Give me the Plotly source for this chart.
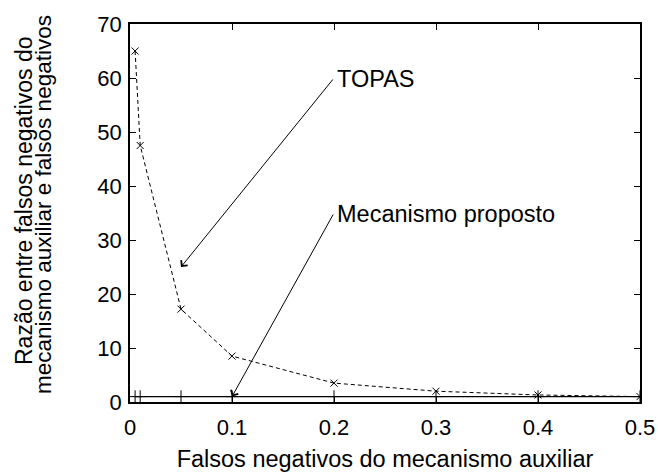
import plotly.graph_objects as go

# False-negative rate of the auxiliary mechanism
fn_rate = [0.005, 0.01, 0.05, 0.1, 0.2, 0.3, 0.4, 0.5]
# Ratio between auxiliary false negatives and false negatives
ratio_topas = [65.0, 47.5, 17.2, 8.5, 3.5, 2.0, 1.3, 1.0]
ratio_proposto = [1.0, 1.0, 1.0, 1.0, 1.0, 1.0, 1.0, 1.0]

x_ticks = [0, 0.1, 0.2, 0.3, 0.4, 0.5]
y_ticks = [0, 10, 20, 30, 40, 50, 60, 70]

y_title_lines = ["Razão entre falsos negativos do", "mecanismo auxiliar e falsos negativos"]

FONT = "Liberation Sans, Arial, Helvetica, sans-serif"
TICK_SIZE = 22
TEXT_SIZE = 23.5

fig = go.Figure()

fig.add_trace(go.Scatter(
    x=fn_rate, y=ratio_topas, mode="lines+markers", name="TOPAS",
    line=dict(color="black", width=1, dash="4px,3px"),
    marker=dict(symbol="x-thin", size=7, line=dict(color="black", width=1)),
))
fig.add_trace(go.Scatter(
    x=fn_rate, y=ratio_proposto, mode="lines+markers", name="Mecanismo proposto",
    line=dict(color="black", width=1.3),
    marker=dict(symbol="cross-thin", size=9, line=dict(color="black", width=1)),
))

# Labels with arrows pointing at each curve
labels = [
    ("TOPAS", 0.2, 60, 0.05, 25),
    ("Mecanismo proposto", 0.2, 35, 0.1, 1),
]
for text, lx, ly, tx, ty in labels:
    fig.add_annotation(
        x=tx, y=ty, ax=lx, ay=ly, xref="x", yref="y", axref="x", ayref="y",
        text="", showarrow=True, arrowhead=4, arrowsize=1.6, arrowwidth=1,
        arrowcolor="black", standoff=0, startstandoff=0,
    )
    fig.add_annotation(
        x=lx, y=ly, xref="x", yref="y", text=text, showarrow=False,
        xanchor="left", yanchor="middle", xshift=1, yshift=-1,
        font=dict(family=FONT, size=TEXT_SIZE, color="black"),
    )

# Two-line y-axis title, each line placed separately for tight spacing
for line, xs, ys, fs in zip(y_title_lines, [-106, -87], [12, 8], [23, 22.5]):
    fig.add_annotation(
        x=0, y=0.5, xref="paper", yref="paper", xanchor="center", yanchor="middle",
        xshift=xs, yshift=ys, textangle=-90, showarrow=False, text=line,
        font=dict(family=FONT, size=fs, color="black"),
    )

axis_common = dict(
    showgrid=False, zeroline=False, showline=True, linecolor="black", linewidth=1.5,
    mirror="allticks", ticks="inside", ticklen=6, tickwidth=1, tickcolor="black",
    automargin=False,
    tickfont=dict(family=FONT, size=TICK_SIZE, color="black"),
)

fig.update_xaxes(
    range=[0, 0.5], tickvals=x_ticks, ticktext=[f"{v:g}" for v in x_ticks],
    ticklabelstandoff=5,
    title=dict(text="Falsos negativos do mecanismo auxiliar", standoff=13,
               font=dict(family=FONT, size=TEXT_SIZE, color="black")),
    **axis_common,
)
fig.update_yaxes(
    range=[0, 70], tickvals=y_ticks, ticktext=[str(v) for v in y_ticks],
    ticklabelstandoff=2,
    **axis_common,
)

fig.update_layout(
    width=658, height=472, showlegend=False,
    margin=dict(l=130, r=18, t=24, b=70),
    plot_bgcolor="white", paper_bgcolor="white",
    font=dict(family=FONT, size=TICK_SIZE, color="black"),
)

fig.write_html("out.html")
